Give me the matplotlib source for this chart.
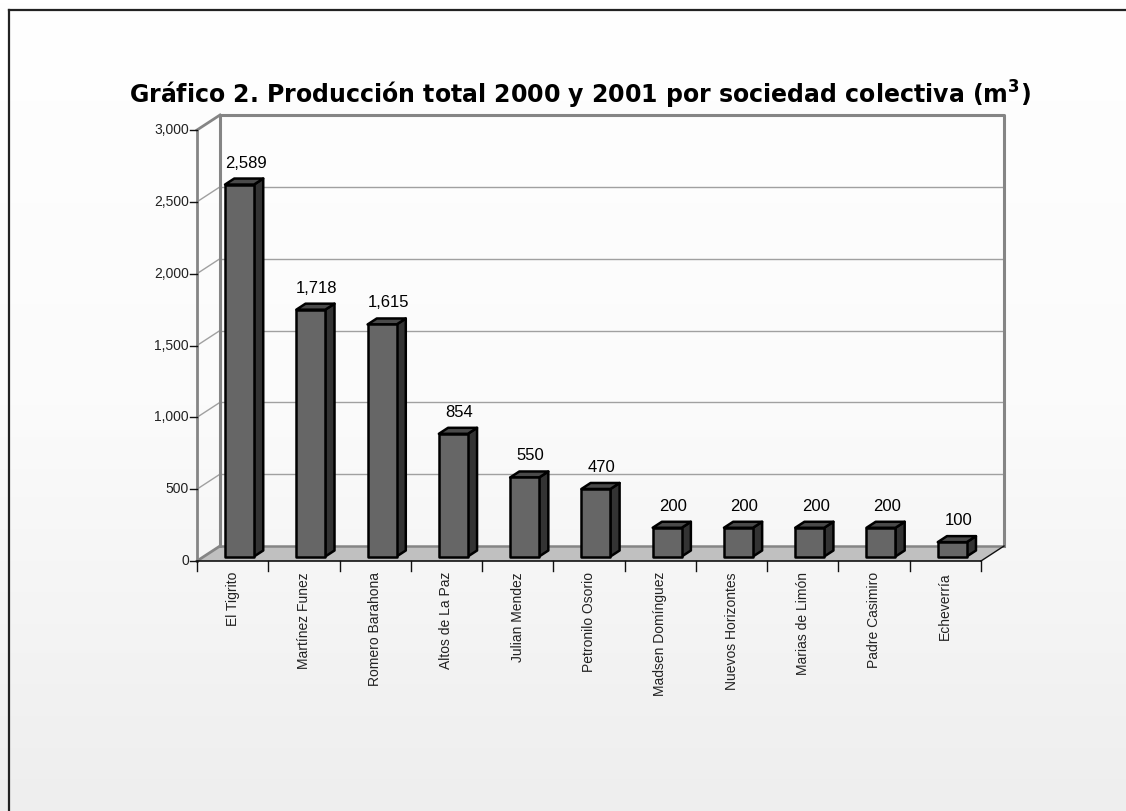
import matplotlib
matplotlib.use('Agg')
import matplotlib.pyplot as plt
from matplotlib.patches import Polygon
from matplotlib.colors import LinearSegmentedColormap
import numpy as np

plt.rcParams['mathtext.default'] = 'regular'

categorias = ['El Tigrito', 'Martínez Funez', 'Romero Barahona', 'Altos de La Paz',
              'Julian Mendez', 'Petronilo Osorio', 'Madsen Domínguez',
              'Nuevos Horizontes', 'Marias de Limón', 'Padre Casimiro', 'Echeverría']
produccion = [2589, 1718, 1615, 854, 550, 470, 200, 200, 200, 200, 100]
yticks = [0, 500, 1000, 1500, 2000, 2500, 3000]

W, H = 1126, 811
x0px, y0px = 197, 561          # front origin of plot (pixels)
XPX = 784 / len(categorias)    # pixels per category
YPX = (561 - 130) / 3000.      # pixels per m3

def X(px):
    return (px - x0px) / XPX - 0.5

def Y(py):
    return (y0px - py) / YPX

DX = 23 / XPX                  # depth offset
DY = 15 / YPX

fig = plt.figure(figsize=(W / 100, H / 100), dpi=100)
ax = fig.add_axes([0, 0, 1, 1])
ax.set_xlim(X(0), X(W))
ax.set_ylim(Y(H), Y(0))
ax.axis('off')

# background gradient
cmap = LinearSegmentedColormap.from_list('bg', ['#ffffff', '#fbfbfb', '#eeeeee'])
grad = np.linspace(0, 1, 256).reshape(-1, 1)
ax.imshow(grad, cmap=cmap, aspect='auto', extent=[X(0), X(W), Y(H), Y(0)], zorder=0)

# outer frame
ax.plot([X(9), X(9)], [Y(10), Y(H + 5)], color='#222222', lw=1.6, clip_on=False, zorder=1)
ax.plot([X(9), X(W + 5)], [Y(10), Y(10)], color='#222222', lw=1.6, clip_on=False, zorder=1)

n = len(categorias)
xl, xr = -0.5, n - 0.5
ytop = 3000

# floor
ax.add_patch(Polygon([(xl, 0), (xr, 0), (xr + DX, DY), (xl + DX, DY)],
                     closed=True, facecolor='#c0c0c0', edgecolor='none', zorder=2))

# gridlines on back wall and left wall
for v in yticks[1:-1]:
    ax.plot([xl + DX, xr + DX], [v + DY, v + DY], color='#a0a0a0', lw=1.0, zorder=2)
    ax.plot([xl, xl + DX], [v, v + DY], color='#a0a0a0', lw=1.0, zorder=2)

# wall edges
wall = '#858585'
ax.plot([xl + DX, xl + DX, xr + DX, xr + DX], [DY, ytop + DY, ytop + DY, DY],
        color=wall, lw=2.2, zorder=2)
ax.plot([xl + DX, xr + DX], [DY, DY], color=wall, lw=1.8, zorder=2)
ax.plot([xl, xl + DX], [ytop, ytop + DY], color=wall, lw=2.0, zorder=2)
ax.plot([xl, xl + DX], [0, DY], color=wall, lw=2.0, zorder=2)
ax.plot([xl, xl], [0, ytop], color=wall, lw=2.0, zorder=2)
ax.plot([xl, xr], [0, 0], color='#111111', lw=1.2, zorder=3)
ax.plot([xr, xr + DX], [0, DY], color='#111111', lw=1.0, zorder=3)

# y ticks
for v in yticks:
    ax.plot([xl - 7 / XPX, xl], [v, v], color='#111111', lw=1.0, zorder=3)
    ax.text(xl - 8 / XPX, v, f'{v:,}', ha='right', va='center', fontsize=10,
            family='Liberation Sans', color='#222222')

# x ticks
for k in range(n + 1):
    ax.plot([xl + k, xl + k], [0, -10 / YPX], color='#111111', lw=1.0, zorder=3)

# bars
w = 29 / XPX
f0, fd = 0.3, 0.4
for i, v in enumerate(produccion):
    bx = i - w / 2 + f0 * DX
    by = f0 * DY
    ddx, ddy = fd * DX, fd * DY
    side = [(bx + w, by), (bx + w + ddx, by + ddy), (bx + w + ddx, by + ddy + v), (bx + w, by + v)]
    top = [(bx, by + v), (bx + w, by + v), (bx + w + ddx, by + v + ddy), (bx + ddx, by + v + ddy)]
    front = [(bx, by), (bx + w, by), (bx + w, by + v), (bx, by + v)]
    ax.add_patch(Polygon(side, closed=True, facecolor='#333333', edgecolor='black', lw=1.8, zorder=4, joinstyle='round'))
    ax.add_patch(Polygon(top, closed=True, facecolor='#4a4a4a', edgecolor='black', lw=1.8, zorder=4, joinstyle='round'))
    ax.add_patch(Polygon(front, closed=True, facecolor='#666666', edgecolor='black', lw=1.8, zorder=5, joinstyle='round'))
    ax.text(bx + w / 2 + ddx / 2 + 1.5 / XPX, by + v + ddy + 11 / YPX, f'{v:,}', ha='center', va='baseline',
            fontsize=12, family='Liberation Sans', color='black', zorder=6)

# category labels
for i, c in enumerate(categorias):
    ax.text(i, Y(572), c, rotation=90, ha='center', va='top', fontsize=10,
            family='Liberation Sans', color='#222222')

ax.text(X(580), Y(95), 'Gráfico 2. Producción total 2000 y 2001 por sociedad colectiva (m$^{3}$)',
        ha='center', va='center', fontsize=17, fontweight='bold', family='DejaVu Sans',
        color='black')

fig.savefig('out.png', dpi=100)
